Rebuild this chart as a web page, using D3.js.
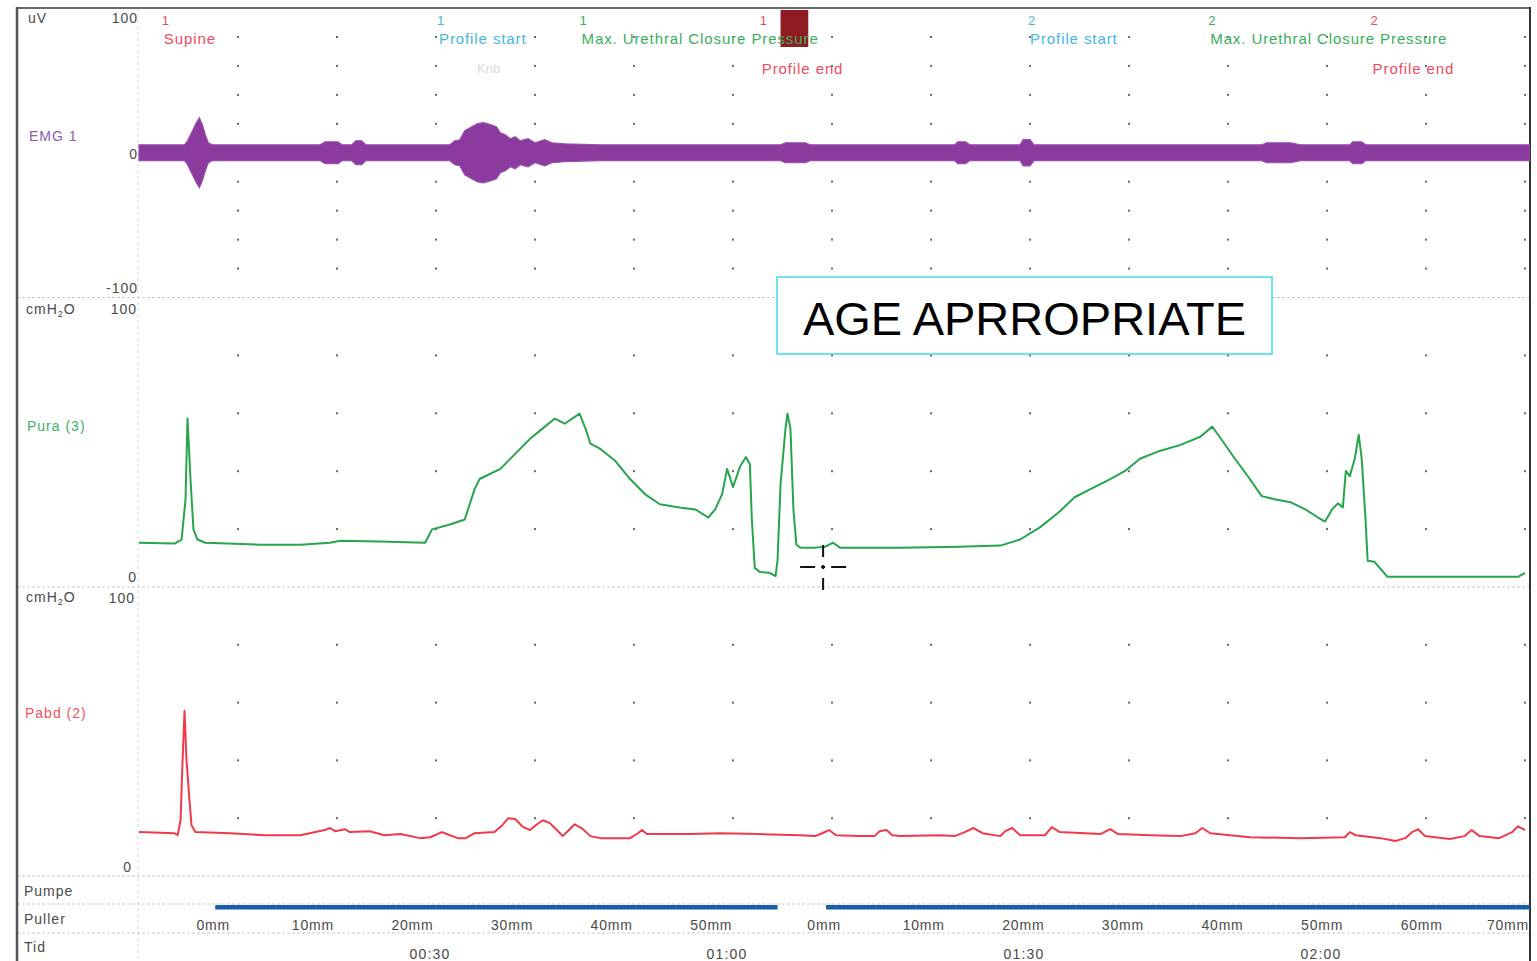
<!DOCTYPE html>
<html><head><meta charset="utf-8">
<script src="https://cdn.jsdelivr.net/npm/d3@7"></script>
<style>
html,body{margin:0;padding:0;background:#fff;}
svg{display:block;font-family:"Liberation Sans",Arial,sans-serif;}
</style></head><body>
<svg id="chart" width="1537" height="961"></svg>
<script>
// ---------------- DATA (time in seconds) ----------------
const emgEnvelope = [[0,5.5],[4.6,5.5],[4.9,8.3],[5.4,15.2],[5.8,20.8],[6.1,24.2],[6.4,19.4],[6.7,12.5],[7.0,6.9],[7.4,5.5],[18.3,5.5],[18.8,7.6],[20.1,7.6],[20.5,5.5],[21.5,5.5],[21.9,8.3],[22.5,8.3],[22.9,5.5],[31.4,5.5],[31.9,8.3],[32.4,9.0],[32.9,15.2],[33.6,18.0],[34.2,20.1],[34.8,20.8],[35.5,19.4],[36.1,18.0],[36.5,13.8],[37.0,12.5],[37.5,9.7],[38.0,11.1],[38.5,8.3],[39.3,9.7],[40.0,6.9],[41.0,9.0],[41.7,6.9],[43.0,6.2],[46.6,5.5],[64.8,5.5],[65.3,6.9],[67.3,6.9],[67.8,5.5],[82.4,5.5],[82.7,7.6],[83.5,7.6],[83.9,5.5],[89.0,5.5],[89.3,9.0],[90.0,9.0],[90.4,5.5],[113.4,5.5],[113.9,6.9],[116.3,6.9],[117.3,5.5],[122.3,5.5],[122.6,7.6],[123.5,7.6],[123.9,5.5],[140.5,5.5]];

const puraSeries = [[0,15.3],[3.6,15.0],[4.3,16.4],[4.7,30.3],[4.9,58.2],[5.2,37.3],[5.5,19.9],[5.9,16.4],[6.7,15.3],[12.2,14.6],[16.3,14.6],[19.3,15.3],[20.3,16.0],[24.3,15.7],[28.9,15.3],[29.6,19.9],[31.4,21.6],[32.9,23.3],[33.9,33.8],[34.4,37.3],[36.5,40.8],[38.0,46.0],[39.5,51.2],[41.0,55.4],[42.0,58.2],[43.0,56.4],[44.5,59.9],[45.1,54.7],[45.6,49.5],[46.6,47.7],[48.1,43.6],[49.6,37.3],[51.1,32.1],[52.6,28.6],[54.6,27.5],[56.2,26.8],[57.5,24.0],[58.2,26.8],[58.9,32.1],[59.4,40.8],[60.0,34.5],[60.7,41.5],[61.3,44.9],[61.7,42.5],[61.9,23.3],[62.2,6.6],[62.7,5.2],[63.7,4.9],[64.3,3.8],[64.5,9.4],[64.8,35.5],[65.3,54.7],[65.5,59.9],[65.8,54.7],[66.1,26.8],[66.4,14.6],[66.8,13.6],[68.3,13.6],[69.3,13.9],[70.1,15.3],[70.8,13.6],[72.8,13.6],[76.9,13.6],[82.9,13.9],[87.0,14.3],[89.0,16.4],[91.0,20.6],[93.0,26.1],[94.5,31.0],[96.1,33.8],[98.1,37.3],[99.6,40.1],[101.1,44.3],[103.1,47.0],[105.2,49.1],[107.2,51.9],[108.4,55.4],[109.0,52.6],[110.7,44.3],[112.2,37.3],[113.4,31.4],[114.7,30.3],[116.3,29.3],[117.8,26.8],[119.1,24.0],[119.8,22.6],[120.5,26.8],[121.1,28.9],[121.6,27.5],[121.9,40.1],[122.3,38.3],[122.8,44.3],[123.2,52.6],[123.5,44.3],[123.9,22.6],[124.1,9.1],[124.8,8.7],[126.1,3.5],[139.3,3.5],[140.0,4.9]];

const pabdSeries = [[0,15.2],[3.6,14.8],[3.9,14.1],[4.2,19.3],[4.4,40.0],[4.6,57.2],[4.8,40.0],[5.1,26.2],[5.3,17.6],[5.7,15.2],[9.2,14.8],[12.7,14.1],[16.3,14.1],[17.8,15.2],[18.8,15.9],[19.3,16.6],[19.8,15.5],[20.8,16.2],[21.3,15.2],[23.3,15.5],[24.8,14.1],[26.4,14.5],[28.4,13.1],[29.4,13.4],[30.6,15.2],[31.4,14.1],[32.2,13.1],[33.0,13.1],[33.9,14.8],[35.9,15.2],[36.7,17.6],[37.3,20.0],[38.0,19.7],[38.7,17.2],[39.5,15.9],[40.2,17.9],[40.8,19.3],[41.5,18.3],[42.2,15.9],[42.8,13.8],[43.5,16.2],[44.0,17.9],[44.7,16.6],[45.6,13.8],[46.6,13.1],[49.6,13.1],[50.4,14.8],[50.8,15.9],[51.3,14.5],[55.7,14.5],[58.7,14.8],[62.7,14.5],[66.8,14.1],[68.3,13.8],[69.0,14.8],[69.7,15.9],[70.4,14.1],[72.8,13.8],[74.3,13.8],[74.8,15.5],[75.5,15.9],[76.1,14.1],[76.9,13.8],[80.9,14.1],[82.4,13.8],[83.4,15.2],[84.3,16.6],[85.2,14.8],[87.0,13.8],[87.5,15.5],[88.2,16.6],[89.0,14.1],[91.5,14.1],[92.2,16.9],[93.0,15.2],[97.1,14.5],[98.1,16.2],[98.9,14.5],[102.1,14.1],[105.2,13.8],[106.7,14.8],[107.4,16.6],[108.2,14.8],[112.2,13.4],[117.3,13.1],[121.8,13.4],[122.3,15.2],[122.9,14.1],[125.4,13.1],[126.9,12.1],[127.9,13.1],[128.6,15.2],[129.2,16.2],[129.9,13.8],[132.4,12.8],[133.9,13.8],[134.6,15.9],[135.4,13.8],[137.4,13.1],[138.7,15.2],[139.3,17.2],[140.0,15.9]];

const eventTimes = [2.3, 30.1, 44.5, 62.7, 89.8, 108.0, 124.4];
const eventNumbers = ["1","1","1","1","2","2","2"];
const eventNames = ["Supine","Profile start","Max. Urethral Closure Pressure","Profile end","Profile start","Max. Urethral Closure Pressure","Profile end"];
const eventTypes = ["end","start","max","end","start","max","end"];
const eventRow = [0,0,0,1,0,0,1];

const profileStarts = [7.5, 69.2];
const profileMm = [[0,10,20,30,40,50],[0,10,20,30,40,50,60,70]];
const pullerBars = [[7.7,64.5],[69.4,140.5]];
const markerBlock = [64.8, 67.6];
const timeTicks = [30, 60, 90, 120];
const timeLabels = ["00:30","01:00","01:30","02:00"];
const emgTicks = [100, 0, -100];
const pressureTicks = [100, 0];
const cursorPoint = [69.1, 6.9];
const annotation = "AGE APRROPRIATE";

// ---------------- LAYOUT ----------------
const svg = d3.select("#chart");
const xL = 139, xR = 1530, frameL = 17;
const x = d3.scaleLinear().domain([0, 140.5]).range([xL, xR]);
const yEmg = d3.scaleLinear().domain([-100, 100]).range([297.5, 8]);
const yPura = d3.scaleLinear().domain([0, 100]).range([587, 297.5]);
const yPabd = d3.scaleLinear().domain([0, 100]).range([876, 587]);
const mmPerSec = 0.994;

const textCol = "#4a4a4a";
const colRed = "#ee4a62", colBlue = "#46b6e2", colGreen = "#3aae5c";
const typeColor = {end: colRed, start: colBlue, max: colGreen};

svg.append("defs").append("clipPath").attr("id","plotclip")
  .append("rect").attr("x", 130).attr("y", 8).attr("width", xR - 130).attr("height", 953);

// separators
const sepY = [297.5, 587, 876, 904, 933];
svg.selectAll("line.sep").data(sepY).enter().append("line")
  .attr("x1", frameL).attr("x2", xR).attr("y1", d=>d).attr("y2", d=>d)
  .attr("stroke", "#c8c8c8").attr("stroke-width", 1.2).attr("stroke-dasharray", "3,2");
svg.append("line").attr("x1", 138).attr("x2", 138).attr("y1", 8).attr("y2", 961)
  .attr("stroke", "#d6d6d6").attr("stroke-width", 1).attr("stroke-dasharray", "3,3");

// grid dots
const gx = d3.range(10, 141, 10);
const dotRows = [];
[-80,-60,-40,-20,20,40,60,80].forEach(v => dotRows.push(yEmg(v)));
[20,40,60,80].forEach(v => dotRows.push(yPura(v)));
[20,40,60,80].forEach(v => dotRows.push(yPabd(v)));
const dots = [];
dotRows.forEach(yy => gx.forEach(t => dots.push([x(t), yy])));
svg.selectAll("rect.dot").data(dots).enter().append("rect")
  .attr("x", d=>d[0]-1).attr("y", d=>d[1]-1).attr("width", 2).attr("height", 2)
  .attr("fill", "#666");

// frame
svg.append("line").attr("x1", frameL).attr("x2", xR).attr("y1", 8).attr("y2", 8)
  .attr("stroke", "#6a6a6a").attr("stroke-width", 2);
svg.append("line").attr("x1", frameL).attr("x2", frameL).attr("y1", 7).attr("y2", 961)
  .attr("stroke", "#555").attr("stroke-width", 2.5);
svg.append("line").attr("x1", xR).attr("x2", xR).attr("y1", 7).attr("y2", 961)
  .attr("stroke", "#333").attr("stroke-width", 2);

const plot = svg.append("g").attr("clip-path", "url(#plotclip)");

// EMG envelope
const emgArea = d3.area().x(d=>x(d[0])).y0(d=>yEmg(-d[1])).y1(d=>yEmg(d[1])).curve(d3.curveLinear);
plot.append("path").datum(emgEnvelope).attr("d", emgArea)
  .attr("fill", "#8b3a9d").attr("stroke", "#9a4fae").attr("stroke-width", 1.2);

// Pura
const linePura = d3.line().x(d=>x(d[0])).y(d=>yPura(d[1]));
plot.append("path").datum(puraSeries).attr("d", linePura)
  .attr("fill", "none").attr("stroke", "#27a54c").attr("stroke-width", 2).attr("stroke-linejoin", "round");
// Pabd
const linePabd = d3.line().x(d=>x(d[0])).y(d=>yPabd(d[1]));
plot.append("path").datum(pabdSeries).attr("d", linePabd)
  .attr("fill", "none").attr("stroke", "#f03a4c").attr("stroke-width", 2).attr("stroke-linejoin", "round");

// Puller bars
plot.selectAll("rect.bar").data(pullerBars).enter().append("rect")
  .attr("x", d=>x(d[0])).attr("width", d=>x(d[1]) - x(d[0]))
  .attr("y", 905).attr("height", 4.5).attr("fill", "#1b5ea8");

// mm labels
const mmLabels = [];
profileStarts.forEach((s, i) => profileMm[i].forEach(mm => mmLabels.push({t: s + mm / mmPerSec, label: mm + "mm"})));
svg.selectAll("text.mm").data(mmLabels).enter().append("text")
  .attr("x", d=> Math.min(x(d.t), xR - 22)).attr("y", 930).attr("text-anchor", "middle")
  .attr("font-size", 14).attr("letter-spacing", 0.8).attr("fill", textCol).text(d=>d.label);

// time labels
svg.selectAll("text.tid").data(timeTicks).enter().append("text")
  .attr("x", d=>x(d) - 6).attr("y", 959).attr("text-anchor", "middle")
  .attr("font-size", 14).attr("letter-spacing", 1.2).attr("fill", textCol)
  .text((d,i)=>timeLabels[i]);

// marker block
svg.append("rect").attr("x", x(markerBlock[0])).attr("width", x(markerBlock[1]) - x(markerBlock[0]))
  .attr("y", 10).attr("height", 37).attr("fill", "#8e1c22");

// events
const ev = eventTimes.map((t,i)=>({t, n: eventNumbers[i], name: eventNames[i], type: eventTypes[i], row: eventRow[i]}));
svg.selectAll("text.evn").data(ev).enter().append("text")
  .attr("x", d=>x(d.t)).attr("y", 25).attr("font-size", 13)
  .attr("fill", d=>typeColor[d.type]).text(d=>d.n);
svg.selectAll("text.evname").data(ev).enter().append("text")
  .attr("x", d=>x(d.t) + 2).attr("y", d=> d.row === 0 ? 44 : 74).attr("font-size", 15)
  .attr("letter-spacing", 0.9).attr("fill", d=>typeColor[d.type]).text(d=>d.name);
svg.append("text").attr("x", 477).attr("y", 73).attr("font-size", 13).attr("fill", "#dadada").text("Knb");

// left labels
const left = svg.append("g").attr("font-size", 14).attr("letter-spacing", 1);
left.append("text").attr("x", 28).attr("y", 23).attr("fill", textCol).text("uV");
left.selectAll("text.emgt").data(emgTicks).enter().append("text")
  .attr("x", 138).attr("text-anchor", "end")
  .attr("y", d => d === 100 ? 23 : d === 0 ? 159 : 293)
  .attr("fill", textCol).text(d=>d);
left.append("text").attr("x", 29).attr("y", 141).attr("fill", "#8b5cb0").text("EMG 1");

function unitLabel(yy) {
  const t = left.append("text").attr("x", 26).attr("y", yy).attr("fill", textCol);
  t.append("tspan").text("cmH");
  t.append("tspan").attr("font-size", 9).attr("dy", 3).text("2");
  t.append("tspan").attr("dy", -3).text("O");
}
unitLabel(314);
unitLabel(602);
left.selectAll("text.pt1").data(pressureTicks).enter().append("text")
  .attr("x", 137).attr("text-anchor", "end")
  .attr("y", d => d === 100 ? 314 : 582).attr("fill", textCol).text(d=>d);
left.selectAll("text.pt2").data(pressureTicks).enter().append("text")
  .attr("x", d => d === 100 ? 135 : 132).attr("text-anchor", "end")
  .attr("y", d => d === 100 ? 603 : 872).attr("fill", textCol).text(d=>d);
left.append("text").attr("x", 27).attr("y", 431).attr("fill", "#3db264").text("Pura (3)");
left.append("text").attr("x", 25).attr("y", 718).attr("fill", "#f0525f").text("Pabd (2)");
left.append("text").attr("x", 24).attr("y", 896).attr("fill", textCol).text("Pumpe");
left.append("text").attr("x", 24).attr("y", 924).attr("fill", textCol).text("Puller");
left.append("text").attr("x", 24).attr("y", 952).attr("fill", textCol).text("Tid");

// annotation box
svg.append("rect").attr("x", 777).attr("y", 277).attr("width", 495).attr("height", 77)
  .attr("fill", "#fff").attr("stroke", "#3fdce9").attr("stroke-width", 1.5);
svg.append("text").attr("x", 1024.5).attr("y", 335).attr("text-anchor", "middle")
  .attr("font-size", 47).attr("fill", "#000").text(annotation);

// cursor crosshair
const cx = x(cursorPoint[0]), cy = yPura(cursorPoint[1]);
svg.append("line").attr("x1", cx - 23).attr("x2", cx + 23).attr("y1", cy).attr("y2", cy)
  .attr("stroke", "#111").attr("stroke-width", 2).attr("stroke-dasharray", "15,6,4,6,15");
svg.append("line").attr("x1", cx).attr("x2", cx).attr("y1", cy - 22).attr("y2", cy + 23)
  .attr("stroke", "#111").attr("stroke-width", 2).attr("stroke-dasharray", "12,8,4,9,12");
</script>
</body></html>
